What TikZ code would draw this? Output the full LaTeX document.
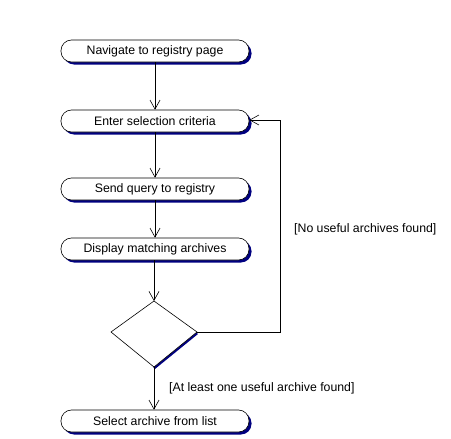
\documentclass[tikz,border=0pt]{standalone}
\usepackage{fontspec}
\setmainfont{Liberation Sans}
\usetikzlibrary{arrows.meta,shapes.geometric,calc}
\definecolor{shad}{HTML}{000080}
\begin{document}
\begin{tikzpicture}[x=1pt,y=-1pt,
  act/.style={draw=black,fill=white,rounded corners=10.5pt,minimum width=188pt,minimum height=22pt,inner sep=0pt,font=\fontsize{12.3}{14}\selectfont,line width=0.6pt},
  shadowed/.style={preaction={fill=shad,transform canvas={shift={(2.5pt,-2.5pt)}}}},
  flow/.style={draw=black,line width=0.6pt,-{Straight Barb[length=9pt,width=10pt,line width=0.6pt]}},
  lbl/.style={font=\fontsize{12.3}{14}\selectfont,inner sep=0pt}]
\useasboundingbox (0,0) rectangle (451,439);
\node[act,shadowed] (n1) at (155,51) {Navigate to registry page};
\node[act,shadowed] (n2) at (155,121) {Enter selection criteria};
\node[act,shadowed] (n3) at (155,189) {Send query to registry};
\node[act,shadowed] (n4) at (155,249) {Display matching archives};
\node[act,shadowed] (n5) at (155,421) {Select archive from list};
\coordinate (dt) at (154,301);
\coordinate (dl) at (111,332);
\coordinate (dr) at (197,332);
\coordinate (db) at (154,367);
\draw[shad,line width=2.8pt] ($(dr)+(0,1)$) -- ($(db)+(0,1)$);
\draw[black,line width=0.6pt,fill=white] (dt) -- (dr) -- (db) -- (dl) -- cycle;
\draw[flow] (n1) -- (n2);
\draw[flow] (n2) -- (n3);
\draw[flow] (n3) -- (n4);
\draw[flow] (n4.south -| dt) -- (dt);
\draw[flow] (db) -- (n5.north -| db);
\coordinate (c1) at (280,332);
\coordinate (c2) at (280,120);
\draw[flow] (dr) -- (c1) -- (c2) -- (n2.east |- c2);
\node[lbl,anchor=west] (l1) at (294,229) {[No useful archives found]};
\node[lbl,anchor=west] (l2) at (169,388) {[At least one useful archive found]};
\end{tikzpicture}
\end{document}
